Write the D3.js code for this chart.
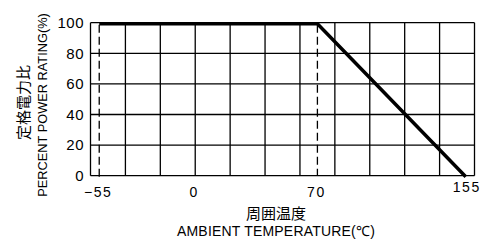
<!DOCTYPE html>
<html>
<head>
<meta charset="utf-8">
<script src="https://cdn.jsdelivr.net/npm/d3@7"></script>
<style>
  html, body { margin: 0; padding: 0; background: #fff; }
  svg { display: block; }
  text { font-family: "Liberation Sans", Arial, sans-serif; fill: #000; }
  .jp { font-family: "Noto Sans CJK JP", "Noto Sans CJK SC", sans-serif; }
</style>
</head>
<body>
<svg id="chart" width="500" height="245"></svg>
<script>
// ---- data ----
const temperatures = [-55, 70, 155];          // ambient temperature (°C)
const ratings = [100, 100, 0];                // percent power rating (%)
const xTickValues = [-55, 0, 70, 155];
const yTickValues = [0, 20, 40, 60, 80, 100];
const xGridValues = [-60, -40, -20, 0, 20, 40, 60, 80, 100, 120, 140, 160];
const dashedTemps = [-55, 70];
const yTitleJa = "定格電力比";
const yTitleEn = "PERCENT POWER RATING(%)";
const xTitleJa = "周囲温度";
const xTitleEn = "AMBIENT TEMPERATURE(℃)";

// ---- layout ----
const svg = d3.select("#chart");
const x = d3.scaleLinear().domain([-60, 160]).range([90.5, 474.5]);
const y = d3.scaleLinear().domain([0, 100]).range([175.7, 22.7]);

const points = temperatures.map((t, i) => [t, ratings[i]]);

// grid
const grid = svg.append("g").attr("stroke", "#000").attr("stroke-width", 1.3).attr("fill", "none");
grid.selectAll("line.v").data(xGridValues).join("line").attr("class", "v")
  .attr("x1", d => x(d)).attr("x2", d => x(d))
  .attr("y1", y(0)).attr("y2", y(100));
grid.selectAll("line.h").data(yTickValues).join("line").attr("class", "h")
  .attr("x1", x(-60)).attr("x2", x(160))
  .attr("y1", d => y(d)).attr("y2", d => y(d));

// dashed reference lines
svg.append("g").selectAll("line").data(dashedTemps).join("line")
  .attr("x1", d => x(d)).attr("x2", d => x(d))
  .attr("y1", y(100) + 2)
  .attr("y2", (d, i) => y(0) + (i === 0 ? 3 : 0))
  .attr("stroke", "#000").attr("stroke-width", 1.3)
  .attr("stroke-dasharray", "8,4");

// derating curve
svg.append("path")
  .datum(points)
  .attr("d", d3.line().x(d => x(d[0])).y(d => y(d[1])))
  .attr("fill", "none").attr("stroke", "#000")
  .attr("stroke-width", 3.5).attr("stroke-linejoin", "miter")
  .attr("transform", "translate(0,1)");

// y tick labels
svg.append("g").selectAll("text").data(yTickValues).join("text")
  .attr("x", 84).attr("y", d => y(d) + 5.3)
  .attr("text-anchor", "end")
  .attr("font-size", 15).attr("letter-spacing", 0.5)
  .text(d => d);

// x tick labels
const fmt = d3.format("d");
svg.append("g").selectAll("text").data(xTickValues).join("text")
  .attr("x", d => x(d) + (d === 155 ? 1 : -1))
  .attr("y", d => d === 155 ? y(0) + 16 : y(0) + 21.5)
  .attr("text-anchor", "middle")
  .attr("font-size", 14).attr("letter-spacing", 1.5)
  .text(d => fmt(d));

// y titles
svg.append("text").attr("class", "jp")
  .attr("transform", `translate(28.5,102.5) rotate(-90)`)
  .attr("text-anchor", "middle").attr("font-size", 15)
  .text(yTitleJa);
svg.append("text")
  .attr("transform", `translate(46.5,105) rotate(-90)`)
  .attr("text-anchor", "middle").attr("font-size", 12.8)
  .text(yTitleEn);

// x titles
svg.append("text").attr("class", "jp")
  .attr("x", 276).attr("y", 219)
  .attr("text-anchor", "middle").attr("font-size", 15)
  .text(xTitleJa);
svg.append("text")
  .attr("x", 276).attr("y", 236)
  .attr("text-anchor", "middle").attr("font-size", 14).attr("letter-spacing", 0.2)
  .text(xTitleEn);
</script>
</body>
</html>
